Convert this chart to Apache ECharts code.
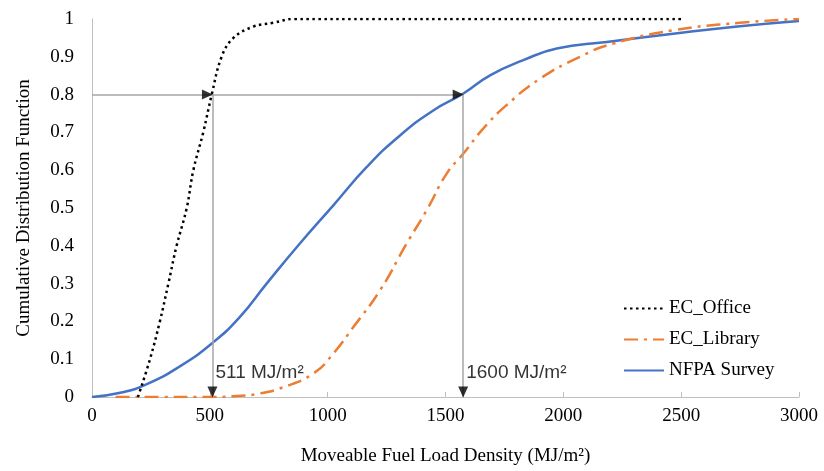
<!DOCTYPE html>
<html>
<head>
<meta charset="utf-8">
<script src="https://cdn.jsdelivr.net/npm/echarts@6/dist/echarts.min.js"></script>
<style>
html,body{margin:0;padding:0;background:#fff;}
#chart{width:824px;height:471px;}
</style>
</head>
<body>
<div id="chart"></div>
<script>
// ---- data ----
var officeX = [195, 246, 288, 324, 359, 402, 430, 472, 508, 550, 600, 685, 770, 855, 1200, 1600, 2000, 2500];
var officeY = [0, 0.1, 0.2, 0.3, 0.4, 0.5, 0.6, 0.7, 0.8, 0.9, 0.95, 0.98, 0.99, 1, 1, 1, 1, 1];

var libraryX = [100, 300, 500, 600, 700, 812, 939, 1024, 1109, 1222, 1335, 1420, 1505, 1576, 1660, 1759, 1901, 2070, 2212, 2466, 2749, 3000];
var libraryY = [0, 0, 0, 0.002, 0.008, 0.026, 0.062, 0.115, 0.185, 0.282, 0.406, 0.494, 0.591, 0.644, 0.71, 0.772, 0.842, 0.90, 0.935, 0.97, 0.99, 1.0];

var nfpaX = [0, 120, 233, 370, 511, 625, 741, 882, 1024, 1165, 1307, 1448, 1576, 1689, 1830, 1972, 2184, 2466, 2749, 3000];
var nfpaY = [0, 0.011, 0.034, 0.08, 0.143, 0.21, 0.30, 0.406, 0.507, 0.608, 0.692, 0.758, 0.803, 0.851, 0.891, 0.922, 0.939, 0.961, 0.981, 0.995];

var seriesNames = ['EC_Office', 'EC_Library', 'NFPA Survey'];
var xTicks = [0, 500, 1000, 1500, 2000, 2500, 3000];
var annotX = [511, 1575];           // marked fuel load densities
var annotLevel = 0.8;               // CDF level
var annotLabels = ['511 MJ/m²', '1600 MJ/m²'];
var annotLabelY = 0.065;

function pairs(xs, ys) { return xs.map(function (x, i) { return [x, ys[i]]; }); }

var serif = '"Liberation Serif", "DejaVu Serif", serif';
var sans = '"Liberation Sans", "Open Sans", sans-serif';
var grey = '#a6a6a6';

var chart = echarts.init(document.getElementById('chart'), null, {renderer: 'canvas'});

var guideLines = [
  [{coord: [0, annotLevel]}, {coord: [annotX[1], annotLevel]}]
].concat(annotX.map(function (x) { return [{coord: [x, annotLevel]}, {coord: [x, 0]}]; }));

var arrowData = [];
annotX.forEach(function (x) {
  arrowData.push({value: [x, annotLevel], symbolRotate: -90, symbolOffset: [-5, 0]});
  arrowData.push({value: [x, 0], symbolRotate: 180, symbolOffset: [0, -5]});
});

var option = {
  backgroundColor: '#ffffff',
  animation: false,
  grid: {left: 92, right: 25, top: 19, bottom: 74, containLabel: false},
  legend: {
    data: seriesNames,
    orient: 'vertical',
    left: 618,
    top: 294,
    itemWidth: 40,
    itemHeight: 14,
    itemGap: 12,
    itemStyle: {opacity: 0},
    textStyle: {fontFamily: serif, fontSize: 19, color: '#000'}
  },
  xAxis: {
    type: 'value',
    min: xTicks[0],
    max: xTicks[xTicks.length - 1],
    interval: xTicks[1] - xTicks[0],
    name: 'Moveable Fuel Load Density (MJ/m²)',
    nameLocation: 'middle',
    nameGap: 50,
    nameTextStyle: {fontFamily: serif, fontSize: 19, color: '#000'},
    axisLine: {show: true, lineStyle: {color: '#bfbfbf', width: 1}},
    axisTick: {show: true, inside: true, length: 5, lineStyle: {color: '#bfbfbf'}},
    axisLabel: {fontFamily: serif, fontSize: 19, color: '#000', margin: 10,
      formatter: function (v) { return String(v); }},
    splitLine: {show: false}
  },
  yAxis: {
    type: 'value',
    min: 0,
    max: 1,
    interval: 0.1,
    name: 'Cumulative Distribution Function',
    nameLocation: 'middle',
    nameGap: 58,
    nameTextStyle: {fontFamily: serif, fontSize: 19, color: '#000'},
    axisLine: {show: true, lineStyle: {color: '#bfbfbf', width: 1}},
    axisTick: {show: false},
    axisLabel: {fontFamily: serif, fontSize: 19, color: '#000', margin: 18,
      formatter: function (v) { return String(Math.round(v * 10) / 10); }},
    splitLine: {show: false}
  },
  series: [
    {
      name: 'guides',
      type: 'line',
      data: [],
      silent: true,
      markLine: {
        silent: true,
        symbol: ['none', 'none'],
        label: {show: false},
        lineStyle: {color: grey, width: 1.5, type: 'solid'},
        data: guideLines
      },
      z: 1
    },
    {
      name: 'NFPA Survey',
      type: 'line',
      data: pairs(nfpaX, nfpaY),
      smooth: 0.5,
      showSymbol: false,
      symbol: 'none',
      color: '#4472c4',
      lineStyle: {color: '#4472c4', width: 2.5},
      z: 3
    },
    {
      name: 'EC_Library',
      type: 'line',
      data: pairs(libraryX, libraryY),
      smooth: 0.5,
      showSymbol: false,
      symbol: 'none',
      color: '#ed7d31',
      lineStyle: {color: '#ed7d31', width: 2.5, type: [14, 6, 3, 6]},
      z: 3
    },
    {
      name: 'EC_Office',
      type: 'line',
      data: pairs(officeX, officeY),
      smooth: 0.4,
      showSymbol: false,
      symbol: 'none',
      color: '#000000',
      lineStyle: {color: '#000000', width: 2.5, type: [2.5, 3.5], cap: 'butt'},
      z: 4
    },
    {
      name: 'arrows',
      type: 'scatter',
      data: arrowData,
      symbol: 'triangle',
      symbolSize: [10, 11],
      itemStyle: {color: '#000'},
      silent: true,
      z: 5
    },
    {
      name: 'annotations',
      type: 'scatter',
      data: annotX.map(function (x, i) { return {value: [x, annotLabelY], name: annotLabels[i]}; }),
      symbolSize: 0,
      silent: true,
      label: {
        show: true,
        position: 'right',
        distance: 3,
        formatter: function (p) { return p.name; },
        fontFamily: sans,
        fontSize: 19,
        color: '#000'
      },
      z: 5
    }
  ]
};
chart.setOption(option);
</script>
</body>
</html>
